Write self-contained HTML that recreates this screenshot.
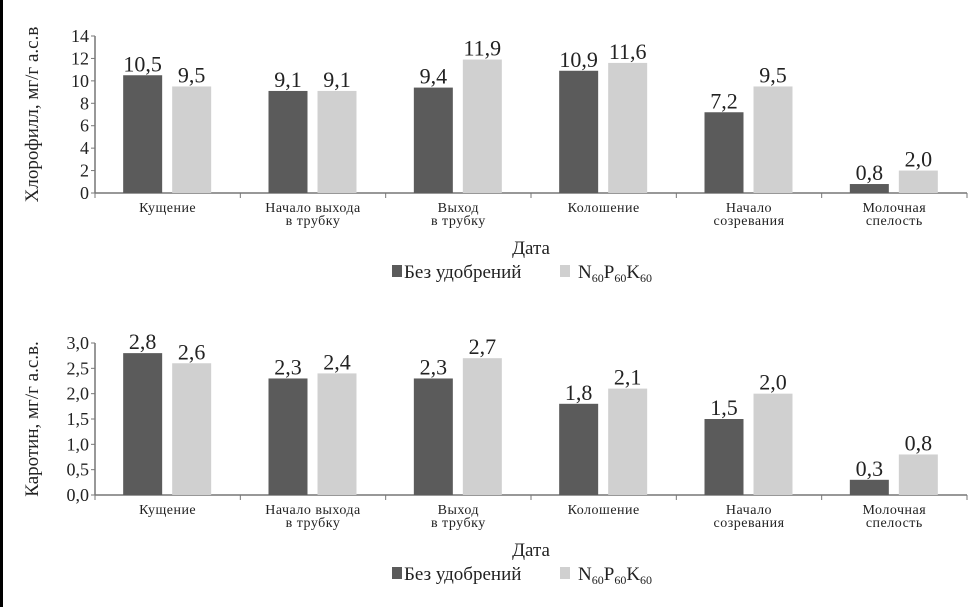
<!DOCTYPE html>
<html><head><meta charset="utf-8"><style>
body{margin:0;background:#fff;}
svg{display:block;font-family:"Liberation Serif","DejaVu Serif",serif;}
</style></head><body>
<svg id="s" width="969" height="607">
<rect x="0" y="0" width="3" height="607" fill="#000"/>
</svg>
<script>
const categories=[["Кущение"],["Начало выхода","в трубку"],["Выход","в трубку"],["Колошение"],["Начало","созревания"],["Молочная","спелость"]];
const chlorNoFert=[10.5,9.1,9.4,10.9,7.2,0.8];
const chlorNPK=[9.5,9.1,11.9,11.6,9.5,2.0];
const chlorTicks=[0,2,4,6,8,10,12,14];
const carNoFert=[2.8,2.3,2.3,1.8,1.5,0.3];
const carNPK=[2.6,2.4,2.7,2.1,2.0,0.8];
const carTicks=["0,0","0,5","1,0","1,5","2,0","2,5","3,0"];
const carTickVals=[0,0.5,1,1.5,2,2.5,3];
const NS="http://www.w3.org/2000/svg";
const svg=document.getElementById('s');
function mk(tag,attrs,txt){const e=document.createElementNS(NS,tag);for(const k in attrs)e.setAttribute(k,attrs[k]);if(txt!==undefined)e.textContent=txt;svg.appendChild(e);return e;}
function fmt(v){return v.toFixed(1).replace('.',',');}
function chart(o){
  const x0=95,x1=967,step=(x1-x0)/categories.length;
  const y=v=>o.base-(v/o.max)*(o.base-o.top);
  const ax=mk('line',{x1:x0,y1:o.base,x2:x1,y2:o.base,stroke:'#777','stroke-width':1.5});
  
  const ay=mk('line',{x1:x0,y1:o.top,x2:x0,y2:o.base,stroke:'#777','stroke-width':1.5});
  
  o.tickVals.forEach((v,i)=>{
    mk('line',{x1:x0-4,y1:y(v),x2:x0,y2:y(v),stroke:'#777'});
    const t=mk('text',{x:x0-6,y:y(v)+6,'text-anchor':'end','font-size':18,fill:'#222'},o.tickLabels[i]);
    
  });
  for(let i=0;i<=categories.length;i++){mk('line',{x1:x0+i*step,y1:o.base,x2:x0+i*step,y2:o.base+5,stroke:'#777'});}
  categories.forEach((c,i)=>{
    const cx=x0+step*(i+0.5);
    [[o.a,'#5b5b5b',cx-44.5,'no-fert'],[o.b,'#d0d0d0',cx+4.5,'npk']].forEach(([arr,col,bx,nm])=>{
      const v=arr[i];
      const r=mk('rect',{x:bx,y:y(v),width:39,height:o.base-y(v),fill:col});
      
      const t=mk('text',{x:bx+19.5,y:y(v)-4,'text-anchor':'middle','font-size':22,fill:'#222'},fmt(v));
      
    });
    c.forEach((line,j)=>{
      const t=mk('text',{x:cx,y:o.base+19+j*13,'text-anchor':'middle','font-size':14,'letter-spacing':'0.5',fill:'#222'},line);
      
    });
  });
  const yt=mk('text',{x:0,y:0,'text-anchor':'middle','font-size':19,fill:'#222',transform:`translate(38,${(o.top+o.base)/2}) rotate(-90)`},o.title);
  
  const xt=mk('text',{x:531,y:o.base+61,'text-anchor':'middle','font-size':19,fill:'#222'},'Дата');
  
  const ly=o.base+85;
  const s1=mk('rect',{x:392,y:ly-13,width:10,height:12,fill:'#5b5b5b'});
  
  const l1=mk('text',{x:404,y:ly,'font-size':19,fill:'#222'},'Без удобрений');
  
  const s2=mk('rect',{x:560,y:ly-13,width:10,height:12,fill:'#d0d0d0'});
  
  const l2=mk('text',{x:578,y:ly,'font-size':19,fill:'#222'});
  
  l2.innerHTML='N<tspan font-size="12" dy="4">60</tspan><tspan dy="-4">P</tspan><tspan font-size="12" dy="4">60</tspan><tspan dy="-4">K</tspan><tspan font-size="12" dy="4">60</tspan>';
}
chart({p:'chlorophyll',base:193,top:36,max:14,a:chlorNoFert,b:chlorNPK,tickVals:chlorTicks,tickLabels:chlorTicks.map(String),title:'Хлорофилл, мг/г а.с.в'});
chart({p:'carotene',base:495,top:343,max:3,a:carNoFert,b:carNPK,tickVals:carTickVals,tickLabels:carTicks,title:'Каротин, мг/г а.с.в.'});
</script>
</body></html>
